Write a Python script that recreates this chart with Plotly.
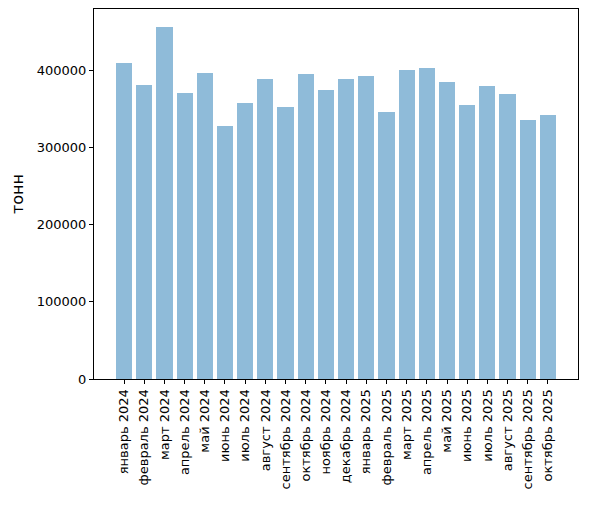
import plotly.graph_objects as go

# monthly volumes, tonnes
months = [
    'январь 2024', 'февраль 2024', 'март 2024', 'апрель 2024', 'май 2024',
    'июнь 2024', 'июль 2024', 'август 2024', 'сентябрь 2024', 'октябрь 2024',
    'ноябрь 2024', 'декабрь 2024', 'январь 2025', 'февраль 2025', 'март 2025',
    'апрель 2025', 'май 2025', 'июнь 2025', 'июль 2025', 'август 2025',
    'сентябрь 2025', 'октябрь 2025',
]
tonnes = [
    409000, 380600, 456800, 370300, 396100,
    327700, 357400, 388400, 352300, 394800,
    374200, 388400, 392300, 345800, 400000,
    402600, 384500, 354800, 379400, 369000,
    335500, 341900,
]

y_ticks = [0, 100000, 200000, 300000, 400000]

fig = go.Figure(go.Bar(
    x=list(range(len(months))),
    y=tonnes,
    width=0.8,
    marker=dict(color='rgba(31,119,180,0.5)', line_width=0),
    hoverinfo='y',
))

n = len(months)
span = (n - 1) + 0.8
# the page body adds an 8px offset, so the figure is a bit smaller
fig.update_layout(
    width=590, height=498,
    margin=dict(l=86, r=20, t=1, b=127, autoexpand=False),
    paper_bgcolor='white', plot_bgcolor='white',
    font=dict(family='DejaVu Sans', size=13, color='black'),
    showlegend=False,
    bargap=0,
)
fig.update_xaxes(
    range=[-0.4 - 0.05 * span, n - 1 + 0.4 + 0.05 * span],
    tickmode='array', tickvals=list(range(n)), ticktext=months,
    tickangle=-90, ticks='outside', ticklen=4, tickcolor='black',
    showline=True, linecolor='black', linewidth=1, mirror=True,
    showgrid=False, zeroline=False, automargin=False,
)
fig.update_yaxes(
    range=[0, max(tonnes) * 1.05],
    tickmode='array', tickvals=y_ticks, ticktext=[str(v) for v in y_ticks],
    ticks='outside', ticklen=4, tickcolor='black',
    showline=True, linecolor='black', linewidth=1, mirror=True,
    showgrid=False, zeroline=False, automargin=False,
    title=dict(text='тонн', standoff=10),
)

fig.write_html("out.html")
